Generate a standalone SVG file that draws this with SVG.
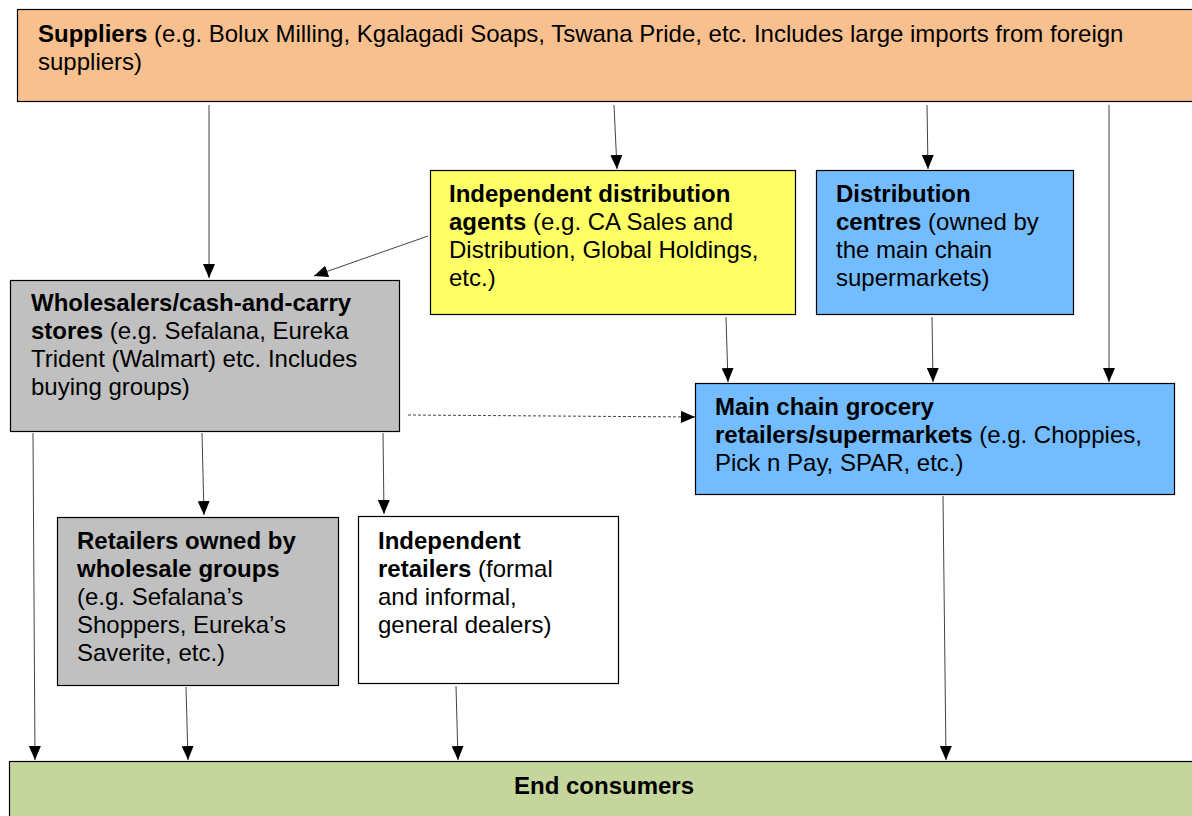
<svg xmlns="http://www.w3.org/2000/svg" width="1192" height="816" viewBox="0 0 1192 816">
<style>
text{font-family:"Liberation Sans",Arial,sans-serif;font-size:24px;fill:#000}
.b{font-weight:bold}
.box{stroke:#000;stroke-width:1.2}
.c{stroke:#444;stroke-width:1;fill:none;marker-end:url(#ah)}
.d{stroke-dasharray:3 2}
</style>
<defs>
<marker id="ah" viewBox="0 0 14 12" refX="14" refY="6" markerWidth="14" markerHeight="12" markerUnits="userSpaceOnUse" orient="auto">
<path d="M0,0 L14,6 L0,12 Z" fill="#000"/>
</marker>
</defs>
<rect width="1192" height="816" fill="#fff"/>
<g id="suppliers">
<rect class="box" x="17.5" y="9.5" width="1190" height="92" fill="#f9c08f"/>
<text x="38" y="42"><tspan class="b">Suppliers</tspan> (e.g. Bolux Milling, Kgalagadi Soaps, Tswana Pride, etc. Includes large imports from foreign</text>
<text x="38" y="70">suppliers)</text>
</g>
<g id="agents">
<rect class="box" x="430.5" y="170.5" width="365" height="144" fill="#ffff66"/>
<text x="449" y="202" class="b">Independent distribution</text>
<text x="449" y="230"><tspan class="b">agents</tspan> (e.g. CA Sales and</text>
<text x="449" y="258">Distribution, Global Holdings,</text>
<text x="449" y="286">etc.)</text>
</g>
<g id="distribution-centres">
<rect class="box" x="816.5" y="170.5" width="257" height="144" fill="#72bcff"/>
<text x="836" y="202" class="b">Distribution</text>
<text x="836" y="230"><tspan class="b">centres</tspan> (owned by</text>
<text x="836" y="258">the main chain</text>
<text x="836" y="286">supermarkets)</text>
</g>
<g id="wholesalers">
<rect class="box" x="10.5" y="280.5" width="389" height="151" fill="#c0c0c0"/>
<text x="31" y="311" class="b">Wholesalers/cash-and-carry</text>
<text x="31" y="339"><tspan class="b">stores</tspan> (e.g. Sefalana, Eureka</text>
<text x="31" y="367">Trident (Walmart) etc. Includes</text>
<text x="31" y="395">buying groups)</text>
</g>
<g id="main-chain">
<rect class="box" x="695.5" y="383.5" width="479" height="111" fill="#72bcff"/>
<text x="715" y="415" class="b">Main chain grocery</text>
<text x="715" y="443"><tspan class="b">retailers/supermarkets</tspan> (e.g. Choppies,</text>
<text x="715" y="471">Pick n Pay, SPAR, etc.)</text>
</g>
<g id="retailers-owned">
<rect class="box" x="57.5" y="517.5" width="281" height="168" fill="#c0c0c0"/>
<text x="77" y="549" class="b">Retailers owned by</text>
<text x="77" y="577" class="b">wholesale groups</text>
<text x="77" y="605">(e.g. Sefalana’s</text>
<text x="77" y="633">Shoppers, Eureka’s</text>
<text x="77" y="661">Saverite, etc.)</text>
</g>
<g id="independent-retailers">
<rect class="box" x="358.5" y="516.5" width="260" height="167" fill="#fff"/>
<text x="378" y="549" class="b">Independent</text>
<text x="378" y="577"><tspan class="b">retailers</tspan> (formal</text>
<text x="378" y="605">and informal,</text>
<text x="378" y="633">general dealers)</text>
</g>
<g id="end-consumers">
<rect class="box" x="9.5" y="761.5" width="1200" height="70" fill="#c4d69c"/>
<text x="604" y="794" class="b" text-anchor="middle">End consumers</text>
</g>
<g id="connectors">
<line class="c" x1="209" y1="105" x2="209" y2="278"/>
<line class="c" x1="614" y1="105" x2="617" y2="169"/>
<line class="c" x1="927" y1="105" x2="928" y2="169"/>
<line class="c" x1="1109" y1="105" x2="1109" y2="382"/>
<line class="c" x1="428" y1="236" x2="314" y2="276"/>
<line class="c" x1="726" y1="317" x2="728" y2="382"/>
<line class="c" x1="932" y1="317" x2="933" y2="382"/>
<line class="c d" x1="408" y1="415" x2="695" y2="417"/>
<line class="c" x1="202" y1="433" x2="204" y2="515"/>
<line class="c" x1="383" y1="433" x2="384" y2="514"/>
<line class="c" x1="33" y1="433" x2="35" y2="760"/>
<line class="c" x1="186" y1="687" x2="188" y2="760"/>
<line class="c" x1="456" y1="686" x2="458" y2="760"/>
<line class="c" x1="943" y1="496" x2="946" y2="760"/>
</g>
</svg>
